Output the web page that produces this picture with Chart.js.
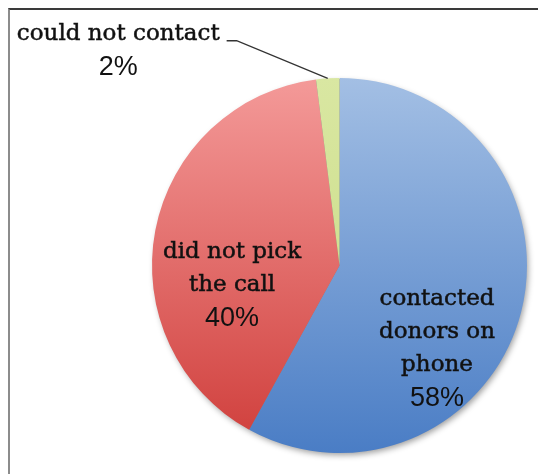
<!DOCTYPE html>
<html>
<head>
<meta charset="utf-8">
<script src="https://cdn.jsdelivr.net/npm/chart.js@4.4.1/dist/chart.umd.min.js"></script>
<style>
  html, body { margin: 0; padding: 0; background: #fff; }
  #wrap { position: relative; width: 538px; height: 474px; overflow: hidden; }
  #frame {
    position: absolute; left: 8px; top: 8px; width: 560px; height: 500px;
    border-left: 2px solid #8c8c8c; border-top: 2px solid #3a3a3a;
  }
  canvas { position: absolute; left: 0; top: 0; }
</style>
</head>
<body>
<div id="wrap">
  <div id="frame"></div>
  <canvas id="pie" width="538" height="474"></canvas>
</div>
<script>
// --- Data ---
const categories = [
  ["contacted", "donors on", "phone"],
  ["did not pick", "the call"],
  ["could not contact"],
];
const shares = [58, 40, 2];

// top / bottom colours of each slice's vertical gradient
const topColors = ["#a3bfe4", "#f49a99", "#d9e7a2"];
const bottomColors = ["#4a7dc5", "#cf3d3a", "#c6d97f"];

// first baseline of each label block, as a fraction of the radius from the pie centre
const labelOffsets = [
  { dx: 0.52, dy: 0.21 },
  { dx: -0.573, dy: -0.04 },
  { dx: -1.18, dy: -1.204 },
];

const serifFont = "23px 'DejaVu Serif'";
const pctFont = "27px 'Liberation Sans'";
const lineGap = 33;

function sliceGradient(context) {
  const chart = context.chart;
  const area = chart.chartArea;
  if (!area) return topColors[context.dataIndex];
  const g = chart.ctx.createLinearGradient(0, area.top, 0, area.bottom);
  g.addColorStop(0, topColors[context.dataIndex]);
  g.addColorStop(1, bottomColors[context.dataIndex]);
  return g;
}

// --- Soft shadow under the whole pie ---
const pieShadow = {
  id: "pieShadow",
  beforeDatasetsDraw(chart) {
    const arc = chart.getDatasetMeta(0).data[0];
    if (!arc) return;
    const ctx = chart.ctx;
    ctx.save();
    ctx.shadowColor = "rgba(0,0,0,0.4)";
    ctx.shadowBlur = 6;
    ctx.shadowOffsetX = 2;
    ctx.shadowOffsetY = 3;
    ctx.fillStyle = "#7f7f7f";
    ctx.beginPath();
    ctx.arc(arc.x, arc.y, arc.outerRadius - 1, 0, Math.PI * 2);
    ctx.fill();
    ctx.restore();
  },
};

// --- Data labels (category lines + percentage) ---
const sliceLabels = {
  id: "sliceLabels",
  afterDatasetsDraw(chart) {
    const meta = chart.getDatasetMeta(0);
    const ctx = chart.ctx;
    const total = shares.reduce((a, b) => a + b, 0);
    ctx.save();
    ctx.fillStyle = "#111";
    ctx.strokeStyle = "#111";
    ctx.textAlign = "center";
    ctx.textBaseline = "alphabetic";
    meta.data.forEach((arc, i) => {
      const r = arc.outerRadius;
      const cx = arc.x + labelOffsets[i].dx * r;
      const firstY = arc.y + labelOffsets[i].dy * r;
      const lines = categories[i];
      let y = firstY;
      ctx.font = serifFont;
      ctx.lineWidth = 0.5;
      lines.forEach((t) => {
        ctx.fillText(t, cx, y);
        ctx.strokeText(t, cx, y);
        y += lineGap;
      });
      ctx.font = pctFont;
      ctx.fillText(Math.round((shares[i] / total) * 100) + "%", cx, y + 2);

      // leader line for the label sitting outside the pie
      if (i === 2) {
        ctx.font = serifFont;
        const w = ctx.measureText(lines[0]).width;
        const startX = cx + w / 2 + 7;
        const startY = firstY + 1;
        const mid = (arc.startAngle + arc.endAngle) / 2;
        const ex = arc.x + Math.cos(mid) * r;
        const ey = arc.y + Math.sin(mid) * r;
        ctx.strokeStyle = "#333";
        ctx.lineWidth = 1.3;
        ctx.beginPath();
        ctx.moveTo(startX, startY);
        ctx.lineTo(startX + 10, startY);
        ctx.lineTo(ex, ey);
        ctx.stroke();
      }
    });
    ctx.restore();
  },
};

new Chart(document.getElementById("pie"), {
  type: "pie",
  data: {
    labels: categories.map((c) => c.join(" ")),
    datasets: [
      {
        data: shares,
        backgroundColor: sliceGradient,
        borderWidth: 0,
      },
    ],
  },
  options: {
    responsive: false,
    animation: false,
    layout: { padding: { left: 152, right: 11, top: 78, bottom: 21 } },
    plugins: {
      legend: { display: false },
      tooltip: { enabled: false },
    },
  },
  plugins: [pieShadow, sliceLabels],
});
</script>
</body>
</html>
